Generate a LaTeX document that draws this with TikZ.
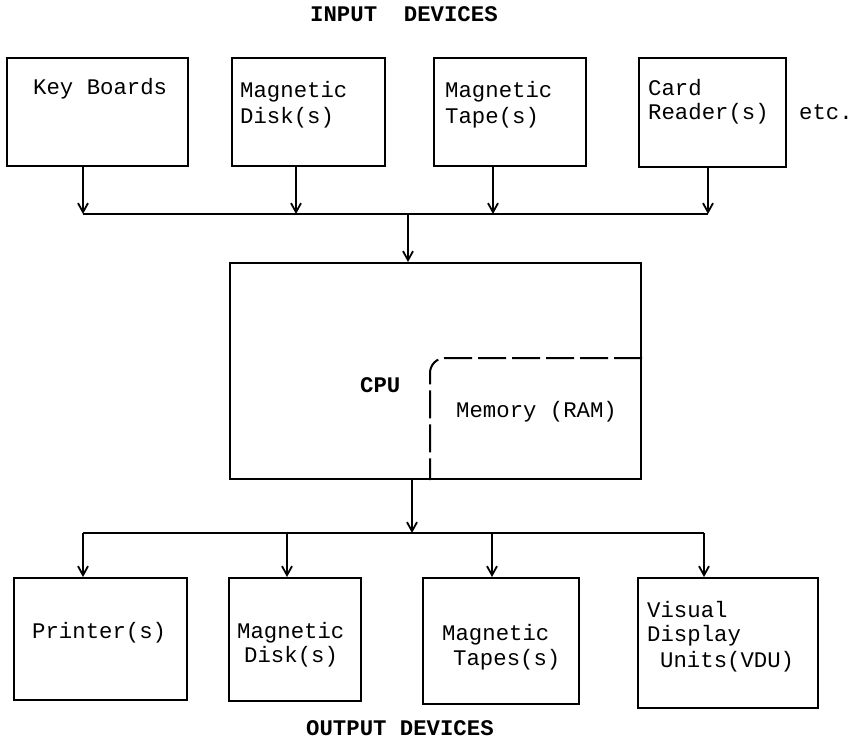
\documentclass[tikz,border=0pt]{standalone}
\usepackage{fontspec}
\setmonofont{Liberation Mono}
\usetikzlibrary{arrows.meta}
\begin{document}
\begin{tikzpicture}[x=1bp,y=-1bp,
  box/.style={draw,line width=2bp,inner sep=0pt,anchor=north west},
  lbl/.style={anchor=base west,inner sep=0pt,font=\ttfamily\fontsize{22.4}{26}\selectfont},
  hdr/.style={anchor=base west,inner sep=0pt,font=\ttfamily\bfseries\fontsize{22.4}{26}\selectfont},
  wire/.style={line width=2bp},
  arr/.style={wire,-{Straight Barb[length=9bp,width=10bp,line width=1.8bp]}},
  memline/.style={line width=2bp,dash pattern=on 28bp off 6bp,rounded corners=15bp},
]
\useasboundingbox (0,0) rectangle (858,741);

% ---------- input devices ----------
\node[hdr] (tin) at (310,22) {INPUT~~DEVICES};

\node[box,minimum width=181bp,minimum height=108bp] (kb)  at (6,57)   {};
\node[box,minimum width=153bp,minimum height=108bp] (mdi) at (231,57) {};
\node[box,minimum width=152bp,minimum height=108bp] (mti) at (433,57) {};
\node[box,minimum width=147bp,minimum height=109bp] (cri) at (638,57) {};

\node[lbl] (kbt)  at (33,94)   {Key Boards};
\node[lbl] (mdi1) at (240,97)  {Magnetic};
\node[lbl] (mdi2) at (240,123) {Disk(s)};
\node[lbl] (mti1) at (445,97)  {Magnetic};
\node[lbl] (mti2) at (445,123) {Tape(s)};
\node[lbl] (cri1) at (648,95)  {Card};
\node[lbl] (cri2) at (648,119) {Reader(s)};
\node[lbl] (etc)  at (799,119) {etc.};

% input bus
\coordinate (ib1) at (83,214);
\coordinate (ib2) at (296,214);
\coordinate (ib3) at (493,214);
\coordinate (ib4) at (708,214);
\coordinate (ib0) at (408,214);

\draw[arr] (kb.south  -| ib1) -- (ib1);
\draw[arr] (mdi.south -| ib2) -- (ib2);
\draw[arr] (mti.south -| ib3) -- (ib3);
\draw[arr] (cri.south -| ib4) -- (ib4);
\draw[wire] (ib1) -- (ib4);

% ---------- central processing unit ----------
\node[box,minimum width=411bp,minimum height=216bp] (cpu) at (229,262) {};
\draw[arr] (ib0) -- (cpu.north -| ib0);

\node[hdr] (cput) at (360,392) {CPU};

% memory area inside the CPU
\coordinate (mtop)    at (640,358);
\coordinate (mcorner) at (430,358);
\draw[memline] (cpu.east |- mtop) -- (mcorner) -- (cpu.south -| mcorner);
\node[lbl] (memt) at (456,417) {Memory (RAM)};

% ---------- output devices ----------
\coordinate (ob0) at (412,533);
\coordinate (ob1) at (83,533);
\coordinate (ob2) at (287,533);
\coordinate (ob3) at (492,533);
\coordinate (ob4) at (704,533);

\draw[arr] (cpu.south -| ob0) -- (ob0);
\draw[wire] (ob1) -- (ob4);

\node[box,minimum width=173bp,minimum height=122bp] (pr)  at (13,577)  {};
\node[box,minimum width=132bp,minimum height=123bp] (mdo) at (228,577) {};
\node[box,minimum width=156bp,minimum height=126bp] (mto) at (422,577) {};
\node[box,minimum width=180bp,minimum height=130bp] (vdu) at (637,577) {};

\draw[arr] (ob1) -- (pr.north  -| ob1);
\draw[arr] (ob2) -- (mdo.north -| ob2);
\draw[arr] (ob3) -- (mto.north -| ob3);
\draw[arr] (ob4) -- (vdu.north -| ob4);

\node[lbl] (prt)  at (32,638)  {Printer(s)};
\node[lbl] (mdo1) at (237,638) {Magnetic};
\node[lbl] (mdo2) at (244,662) {Disk(s)};
\node[lbl] (mto1) at (442,640) {Magnetic};
\node[lbl] (mto2) at (453,665) {Tapes(s)};
\node[lbl] (vdu1) at (647,617) {Visual};
\node[lbl] (vdu2) at (647,641) {Display};
\node[lbl] (vdu3) at (660,667) {Units(VDU)};

\node[hdr] (tout) at (306,735) {OUTPUT DEVICES};
\end{tikzpicture}
\end{document}
